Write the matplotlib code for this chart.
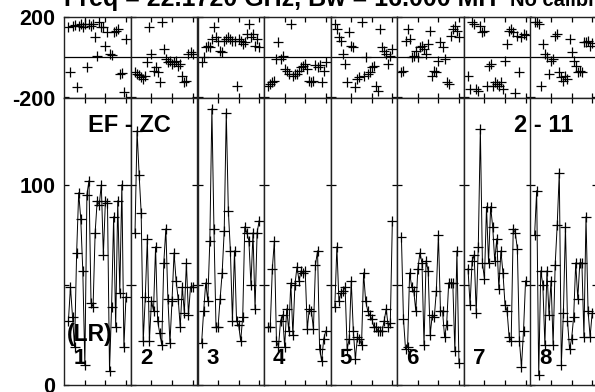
import numpy as np
import matplotlib
matplotlib.use('Agg')
import matplotlib.pyplot as plt

plt.rcParams['font.family'] = ['Liberation Sans', 'DejaVu Sans']
plt.rcParams['font.weight'] = 'bold'

# ---------------- data ----------------
channels = list(range(2, 31))
if_labels = ['1', '2', '3', '4', '5', '6', '7', '8']
title_text = "Freq = 22.1720 GHz, Bw = 16.000 MH'"
title_text2 = 'No calibration applied'
baseline_text = 'EF - ZC'
source_text = '2 - 11'
stokes_text = '(LR)'

amp_if1 = [32, 49, 34, 19, 66, 96, 83, 57, 10, 95, 102, 41, 39, 76, 92, 90, 100, 65, 92, 91, 7, 39, 84, 29, 92, 46, 100, 19, 44]
amp_if2 = [76, 127, 105, 86, 22, 44, 73, 22, 42, 37, 69, 32, 26, 20, 61, 78, 43, 21, 42, 66, 52, 43, 29, 49, 36, 61, 35, 49, 49]
amp_if3 = [21, 37, 51, 42, 72, 138, 78, 29, 29, 43, 56, 77, 136, 87, 67, 32, 67, 32, 30, 22, 34, 79, 76, 72, 50, 76, 38, 76, 82]
amp_if4 = [29, 29, 58, 72, 22, 19, 32, 35, 19, 38, 27, 51, 25, 50, 59, 52, 57, 56, 57, 28, 38, 37, 28, 60, 67, 18, 12, 23, 27]
amp_if5 = [39, 69, 42, 46, 47, 49, 18, 23, 52, 27, 13, 24, 23, 20, 56, 42, 37, 35, 33, 29, 29, 27, 27, 27, 32, 38, 29, 31, 82]
amp_if6 = [74, 33, 18, 19, 56, 49, 47, 37, 58, 66, 61, 20, 62, 57, 25, 35, 34, 47, 75, 37, 37, 24, 30, 51, 51, 51, 17, 67, 11]
amp_if7 = [58, 40, 62, 65, 36, 69, 128, 61, 53, 89, 61, 89, 79, 62, 73, 48, 67, 56, 40, 37, 24, 22, 78, 76, 68, 22, 9, 27, 52]
amp_if8 = [75, 97, 5, 57, 50, 20, 57, 35, 52, 20, 60, 80, 106, 10, 36, 79, 32, 18, 23, 34, 61, 43, 61, 61, 24, 84, 37, 24, 36]

phase_if1 = [150, -75, 158, 160, -150, 158, 167, 150, 165, -50, 167, 158, 167, 100, 8, 175, 150, 150, 58, 125, 17, 10, 125, 133, 142, -83, -80, -175, 92]
phase_if2 = [-75, -83, -90, -100, -108, -92, -25, 150, 17, -67, -50, -75, -125, 178, 42, -8, -25, -17, -33, -25, -17, -42, -33, -92, -125, -117, 17, 25, 17]
phase_if3 = [-25, 0, 50, 58, 50, 92, 150, 100, 83, 33, 25, 83, 92, 100, 92, 83, 83, -142, 92, 83, 67, 75, 117, 167, 100, 117, 58, 92, 50]
phase_if4 = [-142, -133, -125, -117, -8, 75, -8, 8, -58, -67, -83, 167, -92, -83, -83, -67, -50, -42, -33, -58, -117, -125, -117, -40, -50, -38, -122, -70, -22]
phase_if5 = [167, 142, 100, 83, 17, -33, -125, 125, 58, 50, -150, -108, -100, 175, -92, 0, -83, -75, -50, -42, -142, -167, 142, 50, 33, 17, -33, 8, 42]
phase_if6 = [-75, -67, 83, 142, 92, 0, 8, 33, 0, 50, 58, 42, 17, 67, 133, -92, -67, -75, -17, 75, 50, -8, -125, -133, 108, 142, 158, 130, 100]
phase_if7 = [-92, -158, 175, 167, -158, -167, 158, 125, 133, -142, -42, -33, -142, -125, -133, -142, -125, -158, -17, 67, 133, 142, 125, -178, 108, -75, 100, 117, 110]
phase_if8 = [175, 178, 167, -142, 67, 17, 0, -83, -17, -8, 108, 117, -75, -100, -117, -92, -108, 92, 25, -17, -42, -75, -67, -75, 75, 75, 83, 58, 70]

amps = [amp_if1, amp_if2, amp_if3, amp_if4, amp_if5, amp_if6, amp_if7, amp_if8]
phases = [phase_if1, phase_if2, phase_if3, phase_if4, phase_if5, phase_if6, phase_if7, phase_if8]

# ---------------- layout ----------------
W, H = 595, 392
fig = plt.figure(figsize=(W / 100, H / 100), dpi=100)
fig.patch.set_facecolor('white')

x0, pw = 64.3, 66.6
top_y0, top_y1 = 17.3, 97.5
bot_y0, bot_y1 = 97.5, 385.0


def rect(xl, yt, w, h):
    return [xl / W, 1 - (yt + h) / H, w / W, h / H]


def fx(x):
    return x / W


def fy(y):
    return 1 - y / H


for i in range(8):
    xl = x0 + i * pw
    axp = fig.add_axes(rect(xl, top_y0, pw, top_y1 - top_y0))
    axa = fig.add_axes(rect(xl, bot_y0, pw, bot_y1 - bot_y0))
    for ax in (axp, axa):
        ax.set_xlim(0, 32.4)
        ax.set_xticks([10, 20, 30])
        ax.tick_params(direction='in', length=3.6, width=0.9, top=True, right=True,
                       bottom=True, left=True, labelbottom=False, labelsize=15.5,
                       pad=6.5, colors='black')
        for s in ax.spines.values():
            s.set_linewidth(1.0)
            s.set_color('#222222')
    axp.set_ylim(-200, 200)
    axp.set_yticks([-200, 200])
    axp.axhline(0, color='black', lw=0.9)
    axp.plot(channels, phases[i], ls='none', marker='+', ms=7.5, mew=0.9, color='black')

    axa.set_ylim(0, 143.5)
    axa.set_yticks([0, 50, 100])
    axa.plot(channels, amps[i], '-', marker='+', lw=0.7, ms=7.5, mew=0.9, color='black')

    if i == 0:
        axp.set_yticklabels(['-200', '200'], fontweight='bold')
        axa.set_yticklabels(['0', '', '100'], fontweight='bold')
    else:
        axp.tick_params(labelleft=False)
        axa.tick_params(labelleft=False)

    fig.text(fx(xl + 9), fy(364), if_labels[i], fontsize=16, fontweight='bold',
             ha='left', va='baseline')

fig.text(fx(64), fy(6), title_text, fontsize=18, fontweight='bold', ha='left', va='baseline')
fig.text(fx(510), fy(6), title_text2, fontsize=14.5, fontweight='bold', ha='left', va='baseline')
fig.text(fx(88), fy(132), baseline_text, fontsize=17, fontweight='bold', ha='left', va='baseline')
fig.text(fx(514), fy(132), source_text, fontsize=17, fontweight='bold', ha='left', va='baseline')
fig.text(fx(67), fy(341), stokes_text, fontsize=16.5, fontweight='bold', ha='left', va='baseline')

fig.savefig('out.png', dpi=100, facecolor='white')
